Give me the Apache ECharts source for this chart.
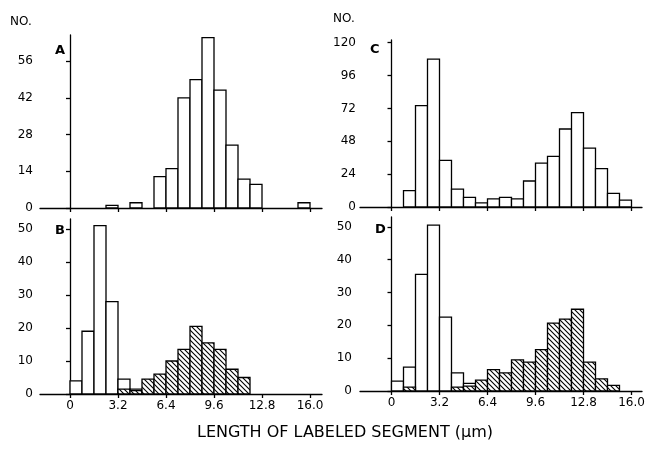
<!DOCTYPE html>
<html><head><meta charset="utf-8">
<script src="https://cdn.jsdelivr.net/npm/echarts@6/dist/echarts.min.js"></script>
<style>html,body{margin:0;padding:0;background:#fff}#c{width:650px;height:451px}</style>
</head><body><div id="c"></div>
<script>
// bins of 0.8 µm
const binStarts = [0,0.8,1.6,2.4,3.2,4.0,4.8,5.6,6.4,7.2,8.0,8.8,9.6,10.4,11.2,12.0,12.8,13.6,14.4,15.2];
const binWidth = 0.8;
// Panel A (open bars)
const aOpen  = [0,0,0,1,0,2,0,12,15,42,49,65,45,24,11,9,0,0,0,2];
// Panel B
const bOpen  = [4,19,51,28,4.5,1.5,0,0,0,0,0,0,0,0,0,0,0,0,0,0];
const bHatch = [0,0,0,0,1.5,1,4.5,6,10,13.5,20.5,15.5,13.5,7.5,5,0,0,0,0,0];
// Panel C (open bars)
const cOpen  = [0,12,74,108,34,13,7,3,6,7,6,19,32,37,57,69,43,28,10,5];
// Panel D
const dOpen  = [3,7.3,35.5,50.5,22.5,5.5,2.3,0,0,0,0,0,0,0,0,0,0,0,0,0];
const dHatch = [0,1.2,0,0,0,1.2,1.5,3.3,6.5,5.5,9.5,8.8,12.6,20.7,21.9,24.9,8.8,3.7,1.7,0];
// Axis ticks / labels
const xTicks = [0,3.2,6.4,9.6,12.8,16.0];
const xTickLabels = ['0','3.2','6.4','9.6','12.8','16.0'];
const yTicksA = [0,14,28,42,56];
const yTicksB = [0,10,20,30,40,50];
const yTicksC = [0,24,48,72,96,120];
const yTicksD = [0,10,20,30,40,50];
const panelLetters = ['A','B','C','D'];
const xTitle = 'LENGTH OF LABELED SEGMENT (\u03bcm)';
const yTitle = 'NO.';

const FONT = 'DejaVu Sans';

// hatch pattern
const pc = document.createElement('canvas');
const S = 5;
pc.width = S; pc.height = S;
const g = pc.getContext('2d');
g.fillStyle = '#fff'; g.fillRect(0,0,S,S);
g.strokeStyle = '#000'; g.lineWidth = 1.1;
g.beginPath();
g.moveTo(-1,-1); g.lineTo(S+1,S+1);
g.moveTo(S-1,-1); g.lineTo(S+1,1);
g.moveTo(-1,S-1); g.lineTo(1,S+1);
g.stroke();
const hatch = {image: pc, repeat: 'repeat'};

function toData(vals){
  const out = [];
  vals.forEach((v,i)=>{ if(v>0) out.push([binStarts[i], binStarts[i]+binWidth, v]); });
  return out;
}
function histSeries(idx, vals, fill){
  return {
    type:'custom', xAxisIndex: idx, yAxisIndex: idx,
    data: toData(vals),
    encode:{x:[0,1], y:2},
    renderItem: function(params, api){
      const p0 = api.coord([api.value(0), api.value(2)]);
      const p1 = api.coord([api.value(1), 0]);
      return {type:'rect', shape:{x:p0[0], y:p0[1], width:p1[0]-p0[0], height:p1[1]-p0[1]},
        style:{fill: fill, stroke:'#000', lineWidth:1.3}};
    }
  };
}

const grids = [
  {left:40, top:35, width:282, height:173},
  {left:40, top:219, width:282, height:175},
  {left:360, top:40, width:282, height:167},
  {left:360, top:217, width:282, height:174}
];
const xRanges = [[-2,16.8],[-2,16.8],[-2.1,16.7],[-2.1,16.7]];
const yMax = [66,53,122,53];
const yTicks = [yTicksA,yTicksB,yTicksC,yTicksD];
const yMargins = [7,7,4,8];

const lineStyle = {color:'#000', width:1.3};
const xAxes = grids.map((gr,i)=>({
  type:'value', gridIndex:i, min:xRanges[i][0], max:xRanges[i][1],
  axisLine:{show:true, onZero:false, lineStyle},
  axisTick:{show:true, length:4, customValues:xTicks, lineStyle},
  axisLabel:{show: i===1||i===3, customValues:xTicks, margin:6,
    formatter:(v)=>xTickLabels[xTicks.indexOf(v)] ?? '',
    color:'#000', fontFamily:FONT, fontSize:12},
  splitLine:{show:false}
}));
const yAxes = grids.map((gr,i)=>({
  type:'value', gridIndex:i, min:0, max:yMax[i],
  axisLine:{show:true, lineStyle},
  axisTick:{show:true, length:4, customValues:yTicks[i], lineStyle},
  axisLabel:{show:true, customValues:yTicks[i], margin:yMargins[i],
    color:'#000', fontFamily:FONT, fontSize:12},
  splitLine:{show:false}
}));

const series = [
  histSeries(0, aOpen, '#fff'),
  histSeries(1, bOpen, '#fff'),
  histSeries(1, bHatch, hatch),
  histSeries(2, cOpen, '#fff'),
  histSeries(3, dOpen, '#fff'),
  histSeries(3, dHatch, hatch)
];

const letterPos = [[55,51],[55,231],[370,50],[375,230]];
const graphic = [];
letterPos.forEach((p,i)=>graphic.push({type:'text', x:p[0], y:p[1],
  style:{text:panelLetters[i], fill:'#000', font:'bold 13px "'+FONT+'"', textVerticalAlign:'middle'}}));
graphic.push({type:'text', x:10, y:22, style:{text:yTitle, fill:'#000', font:'12px "'+FONT+'"', textVerticalAlign:'middle'}});
graphic.push({type:'text', x:333, y:19, style:{text:yTitle, fill:'#000', font:'12px "'+FONT+'"', textVerticalAlign:'middle'}});
graphic.push({type:'text', x:345, y:433, style:{text:xTitle, fill:'#000', font:'16px "'+FONT+'"', textAlign:'center', textVerticalAlign:'middle'}});

const chart = echarts.init(document.getElementById('c'), null, {renderer:'canvas'});
chart.setOption({
  animation:false,
  backgroundColor:'#fff',
  grid: grids,
  xAxis: xAxes,
  yAxis: yAxes,
  series: series,
  graphic: graphic
});
</script>
</body></html>
